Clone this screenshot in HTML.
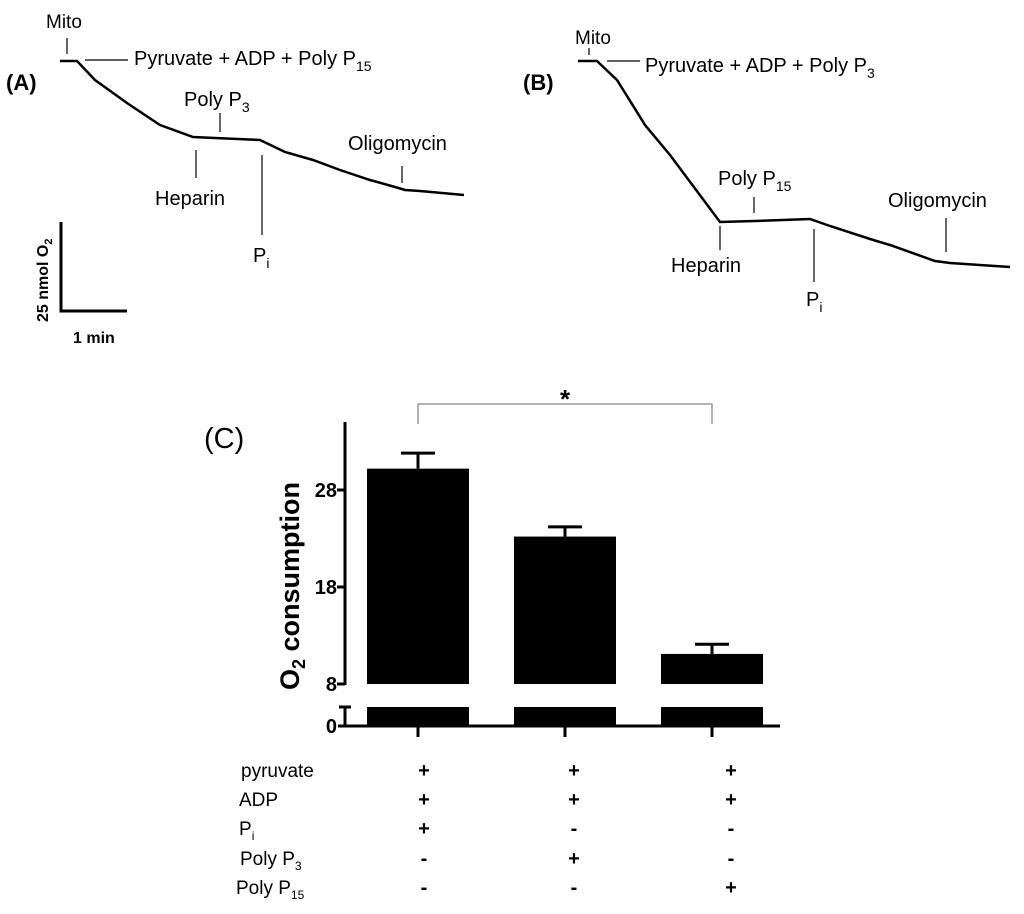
<!DOCTYPE html>
<html><head><meta charset="utf-8"><style>
body{margin:0;background:#fff}
svg{display:block;font-family:"Liberation Sans",Arial,sans-serif}
</style></head><body>
<svg width="1024" height="914" viewBox="0 0 1024 914">
<g id="panelA" fill="#000">
<text x="6" y="90" font-size="22" font-weight="bold">(A)</text>
<polyline fill="none" stroke="#000" stroke-width="2.5" points="60,61 77,61 95,80 127,103 160,125 193,137 215,138 260,140 285,152 313,160 340,170 370,180 395,187 405,190 420,191 464,195"/>
<g stroke="#000" stroke-width="1.2">
<line x1="67" y1="38" x2="67" y2="54"/><line x1="85" y1="60" x2="128" y2="60"/>
<line x1="220" y1="113" x2="220" y2="132"/><line x1="196" y1="150" x2="196" y2="178"/>
<line x1="262" y1="155" x2="262" y2="235"/><line x1="402" y1="166" x2="402" y2="183"/>
</g>
<text x="46" y="28" font-size="19">Mito</text>
<text x="134" y="65" font-size="20">Pyruvate + ADP + Poly P<tspan font-size="14" dy="6">15</tspan></text>
<text x="184" y="106" font-size="20">Poly P<tspan font-size="14" dy="6">3</tspan></text>
<text x="155" y="205" font-size="20">Heparin</text>
<text x="253" y="262" font-size="20">P<tspan font-size="14" dy="6">i</tspan></text>
<text x="348" y="150" font-size="20">Oligomycin</text>
<polyline fill="none" stroke="#000" stroke-width="3" points="61,222 61,311 127,311"/>
<text transform="translate(48,322) rotate(-90)" font-size="16" font-weight="bold">25 nmol O<tspan font-size="11" dy="4">2</tspan></text>
<text x="73" y="343" font-size="16" font-weight="bold">1 min</text>
</g>
<g id="panelB" fill="#000">
<text x="523" y="90" font-size="22" font-weight="bold">(B)</text>
<polyline fill="none" stroke="#000" stroke-width="2.5" points="578,61 597,61 617,80 645,125 670,155 720,222 755,221 810,219 830,226 870,239 890,245 935,261 950,263 1010,267"/>
<g stroke="#000" stroke-width="1.2">
<line x1="589" y1="48" x2="589" y2="55"/><line x1="607" y1="61" x2="640" y2="61"/>
<line x1="754" y1="197" x2="754" y2="213"/><line x1="720" y1="226" x2="720" y2="250"/>
<line x1="814" y1="229" x2="814" y2="282"/><line x1="946" y1="218" x2="946" y2="252"/>
</g>
<text x="575" y="44" font-size="19">Mito</text>
<text x="645" y="72" font-size="20">Pyruvate + ADP + Poly P<tspan font-size="14" dy="6">3</tspan></text>
<text x="718" y="185" font-size="20">Poly P<tspan font-size="14" dy="6">15</tspan></text>
<text x="671" y="272" font-size="20">Heparin</text>
<text x="806" y="306" font-size="20">P<tspan font-size="14" dy="6">i</tspan></text>
<text x="888" y="207" font-size="20">Oligomycin</text>
</g>
<g id="chartC"></g>
</svg>
<script>
const categories=["Pi","Poly P3","Poly P15"];
const values=[30.2,23.2,11.1];
const errors=[1.6,1.0,1.0];
const yTicks=[8,18,28];
const NS="http://www.w3.org/2000/svg";
const g=document.getElementById("chartC");
function y(v){return 684-(v-8)*9.7;}
function x(i){return 418+i*147;}
function mk(t,a,txt){const e=document.createElementNS(NS,t);for(const k in a)e.setAttribute(k,a[k]);if(txt!==undefined)e.textContent=txt;g.appendChild(e);return e;}
let e;
e=mk("text",{x:204,y:448,"font-size":29},"(C)");


e=mk("line",{x1:345,y1:422,x2:345,y2:685,stroke:"#000","stroke-width":3});


e=mk("path",{d:"M339,707 H351 M345,707 V727 M338,726 H780",stroke:"#000","stroke-width":3,fill:"none"});


e=mk("text",{x:337,y:733,"font-size":20,"font-weight":"bold","text-anchor":"end"},"0");


yTicks.forEach(t=>{
 e=mk("line",{x1:337,y1:y(t),x2:345,y2:y(t),stroke:"#000","stroke-width":3});
 
 
 e=mk("text",{x:337,y:y(t)+7,"font-size":20,"font-weight":"bold","text-anchor":"end"},String(t));
 
 
});
e=mk("text",{transform:"translate(299,690) rotate(-90)","font-size":27,"font-weight":"bold"});
e.innerHTML='O<tspan font-size="18" dy="6">2</tspan><tspan dy="-6"> consumption</tspan>';


values.forEach((v,i)=>{
 const cx=x(i);
 e=mk("rect",{x:cx-51,y:y(v),width:102,height:684-y(v),fill:"#000"});
 
 
 e=mk("rect",{x:cx-51,y:707,width:102,height:19,fill:"#000"});
 
 
 e=mk("path",{d:`M${cx},${y(v)} V${y(v+errors[i])} M${cx-17},${y(v+errors[i])} H${cx+17}`,stroke:"#000","stroke-width":3,fill:"none"});
 
 
 e=mk("line",{x1:cx,y1:726,x2:cx,y2:737,stroke:"#000","stroke-width":3});
 
 
});
e=mk("path",{d:`M${x(0)},424 V404 H${x(2)} V424`,stroke:"#888","stroke-width":1.3,fill:"none"});


e=mk("text",{x:(x(0)+x(2))/2,y:408,"font-size":26,"font-weight":"bold","text-anchor":"middle"},"*");


const rowNames=["pyruvate","ADP","P<tspan font-size='12' dy='5'>i</tspan>","Poly P<tspan font-size='12' dy='5'>3</tspan>","Poly P<tspan font-size='12' dy='5'>15</tspan>"];
const rowX=[241,239,239,240,236];
const rowY=[777,806,835,865,894];
const marks=[["+","+","+"],["+","+","+"],["+","-","-"],["-","+","-"],["-","-","+"]];
const markX=[424,574,731];
rowNames.forEach((n,r)=>{
 e=mk("text",{x:rowX[r],y:rowY[r],"font-size":19});
 e.innerHTML=n;
 
 
 marks[r].forEach((m,c)=>{
  e=mk("text",{x:markX[c],y:rowY[r],"font-size":20,"font-weight":"bold","text-anchor":"middle"},m);
  
  
 });
});
</script>
</body></html>
